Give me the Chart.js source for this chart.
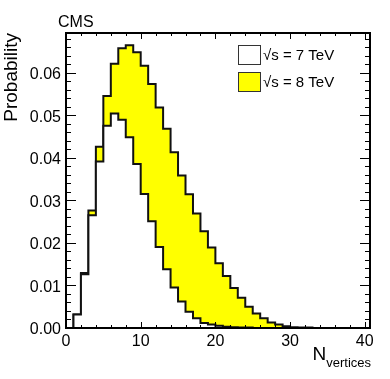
<!DOCTYPE html>
<html lang="en">
<head>
    <meta charset="UTF-8">
    <title>Number of vertices</title>
    <script src="https://cdn.jsdelivr.net/npm/chart.js@4.4.0/dist/chart.umd.min.js"></script>
    <style>
        body { margin: 0; background: #fff; }
    </style>
</head>
<body>
    <canvas id="vtxChart" width="390" height="379"></canvas>

    <script>
        // bin edges (N vertices), one more than the number of bins
        const binEdges = [0, 1, 2, 3, 4, 5, 6, 7, 8, 9, 10, 11, 12, 13, 14, 15, 16, 17, 18, 19, 20,
                          21, 22, 23, 24, 25, 26, 27, 28, 29, 30, 31, 32, 33, 34, 35, 36, 37, 38, 39, 40];
        const prob7TeV = [0, 0.0032, 0.0126, 0.0265, 0.0391, 0.0475, 0.0504, 0.0489, 0.0448, 0.0385,
                          0.0315, 0.0251, 0.0190, 0.0138, 0.0095, 0.0062, 0.0038, 0.0023, 0.0012, 0.0008,
                          0.0005, 0.0003, 0.0002, 0.0001, 0.0001, 0, 0, 0, 0, 0,
                          0, 0, 0, 0, 0, 0, 0, 0, 0, 0];
        const prob8TeV = [0, 0.0032, 0.0129, 0.0276, 0.0426, 0.0545, 0.0621, 0.0657, 0.0664, 0.0648,
                          0.0616, 0.0573, 0.0518, 0.0468, 0.0413, 0.0358, 0.0314, 0.0269, 0.0227, 0.0189,
                          0.0152, 0.0122, 0.0094, 0.0071, 0.0050, 0.0034, 0.0023, 0.0013, 0.0008, 0.0004,
                          0.0002, 0.0001, 0.0001, 0, 0, 0, 0, 0, 0, 0];
        const xTicks = [0, 10, 20, 30, 40];
        const yTicks = [0, 0.01, 0.02, 0.03, 0.04, 0.05, 0.06];
        const seriesLabels = ["√s = 7 TeV", "√s = 8 TeV"];
        const seriesFills = ["#ffffff", "#ffff00"];

        // step histogram: outline starts and ends on the axis
        function histPoints(values) {
            const pts = [{x: binEdges[0], y: 0}];
            values.forEach((v, i) => pts.push({x: binEdges[i], y: v}));
            pts.push({x: binEdges[values.length], y: 0});
            return pts;
        }

        // ROOT style frame, inward ticks on all sides, legend and extra text
        const rootDecor = {
            id: "rootDecor",
            afterDraw(chart) {
                const ctx = chart.ctx;
                const ca = chart.chartArea;
                const xs = chart.scales.x, ys = chart.scales.y;
                ctx.save();
                ctx.strokeStyle = "#000";
                ctx.lineWidth = 1;
                ctx.beginPath();
                for (let v = 0; v <= 40; v += 2) {
                    const px = Math.round(xs.getPixelForValue(v)) + 0.5;
                    const len = v % 10 === 0 ? 6 : 3;
                    ctx.moveTo(px, ca.bottom); ctx.lineTo(px, ca.bottom - len);
                    ctx.moveTo(px, ca.top); ctx.lineTo(px, ca.top + len);
                }
                for (let i = 0; i <= 34; i++) {
                    const py = Math.round(ys.getPixelForValue(i * 0.002)) + 0.5;
                    const len = i % 5 === 0 ? 10 : 5;
                    ctx.moveTo(ca.left, py); ctx.lineTo(ca.left + len, py);
                    ctx.moveTo(ca.right, py); ctx.lineTo(ca.right - len, py);
                }
                ctx.stroke();
                ctx.lineWidth = 2;
                ctx.strokeRect(ca.left, ca.top, ca.right - ca.left, ca.bottom - ca.top);

                // legend
                ctx.lineWidth = 1;
                ctx.font = "15px 'Liberation Sans', Arial, sans-serif";
                ctx.textBaseline = "middle";
                ctx.fillStyle = "#000";
                seriesLabels.forEach((lab, i) => {
                    const by = 45.5 + i * 27;
                    ctx.fillStyle = seriesFills[i];
                    ctx.fillRect(238.5, by, 22, 19);
                    ctx.strokeStyle = "#333";
                    ctx.strokeRect(238.5, by, 22, 19);
                    ctx.fillStyle = "#000";
                    ctx.fillText(lab, 263, by + 10);
                });

                ctx.textBaseline = "alphabetic";
                ctx.font = "16px 'Liberation Sans', Arial, sans-serif";
                ctx.fillText("CMS", 58, 27);

                ctx.textAlign = "right";
                ctx.font = "13px 'Liberation Sans', Arial, sans-serif";
                ctx.fillText("vertices", 371, 367);
                const subW = ctx.measureText("vertices").width;
                ctx.font = "19px 'Liberation Sans', Arial, sans-serif";
                ctx.fillText("N", 371 - subW, 360);
                ctx.restore();
            }
        };

        const tickFont = {family: "'Liberation Sans', Arial, sans-serif", size: 16};

        const vtxChart = new Chart(document.getElementById("vtxChart"), {
            type: "line",
            data: {
                datasets: [
                    {label: seriesLabels[0], data: histPoints(prob7TeV), stepped: true,
                     borderColor: "#111", borderWidth: 2, backgroundColor: seriesFills[0],
                     fill: "origin", pointRadius: 0},
                    {label: seriesLabels[1], data: histPoints(prob8TeV), stepped: true,
                     borderColor: "#111", borderWidth: 2, backgroundColor: seriesFills[1],
                     fill: "origin", pointRadius: 0}
                ]
            },
            options: {
                responsive: false,
                animation: false,
                layout: {padding: {top: 33, right: 20, left: 0, bottom: 0}},
                plugins: {legend: {display: false}, tooltip: {enabled: false}},
                scales: {
                    x: {
                        type: "linear", min: 0, max: 40.7,
                        grid: {display: false, drawTicks: false},
                        border: {display: false},
                        afterBuildTicks: (s) => { s.ticks = xTicks.map(v => ({value: v})); },
                        afterFit: (s) => { s.height = 51; },
                        ticks: {font: tickFont, color: "#000", padding: 4, maxRotation: 0,
                                callback: (v) => String(v)}
                    },
                    y: {
                        min: 0, max: 0.0693,
                        grid: {display: false, drawTicks: false},
                        border: {display: false},
                        afterBuildTicks: (s) => { s.ticks = yTicks.map(v => ({value: v})); },
                        afterFit: (s) => { s.width = 66; },
                        ticks: {font: tickFont, color: "#000", padding: 5, labelOffset: 2,
                                callback: (v) => v.toFixed(2)},
                        title: {display: true, text: "Probability", align: "end", color: "#000",
                                padding: 0,
                                font: {family: "'Liberation Sans', Arial, sans-serif", size: 19}}
                    }
                }
            },
            plugins: [rootDecor]
        });
    </script>
</body>
</html>
